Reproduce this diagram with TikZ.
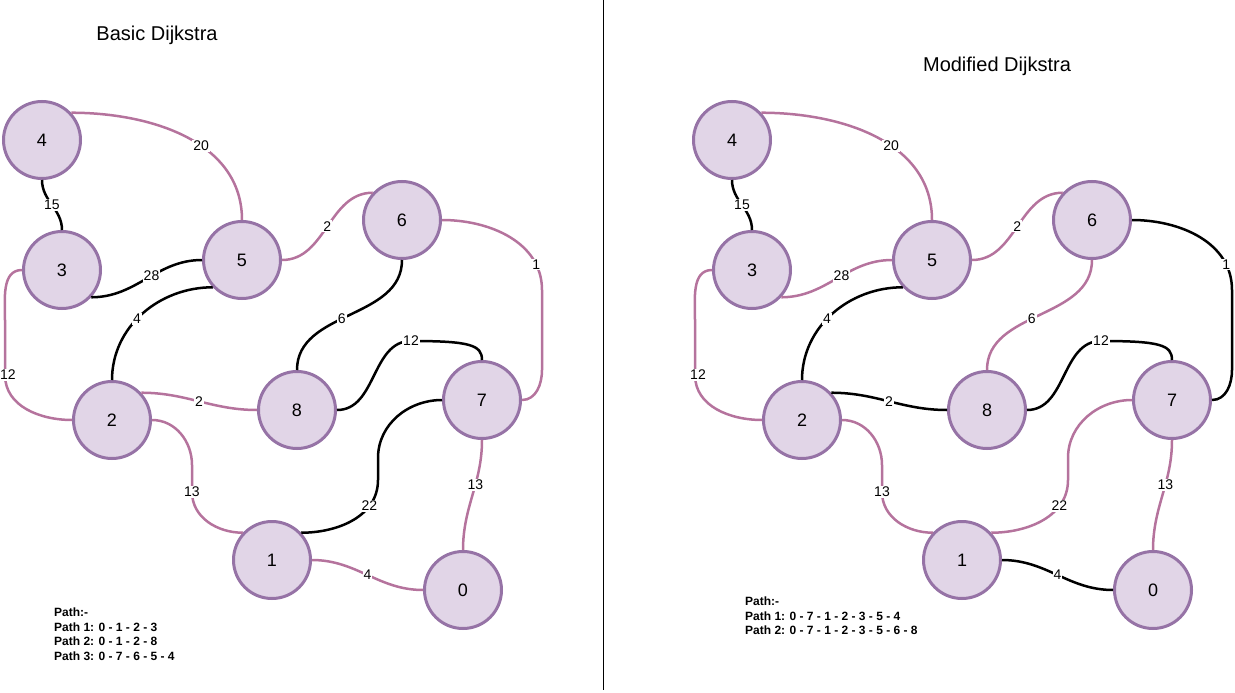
\documentclass[tikz,border=0pt]{standalone}
\usepackage{fontspec}
\setmainfont{Liberation Sans}
\usepackage{tikz}
\definecolor{vertexfill}{HTML}{E1D5E7}
\definecolor{vertexline}{HTML}{9673A6}
\definecolor{spareline}{HTML}{B5739D}
\tikzset{
  %Define style for vertices
  vertex/.style={
    circle,
    fill=vertexfill,
    draw=vertexline, line width=3pt,
    minimum size=77pt,
    inner sep=0pt,
    font=\fontsize{18}{20}\selectfont},
  % Define edge styles
  chosen/.style={draw=black, line width=2.5pt},
  spare/.style={draw=spareline, line width=2.5pt},
  % Define style for weights
  weight/.style={
    fill=white,
    inner sep=1pt,
    font=\fontsize{14}{16}\selectfont},
  heading/.style={font=\fontsize{20}{24}\selectfont},
  pathtext/.style={
    anchor=north west,
    align=left,
    inner sep=0pt,
    font=\bfseries\fontsize{12}{14.5}\selectfont}
}

\begin{document}
\begin{tikzpicture}[x=1pt,y=-1pt]
  \useasboundingbox (0,0) rectangle (1235,693);
  \node[heading] (basic) at (157,35) {Basic Dijkstra};
  \node[heading] (modified) at (997,66) {Modified Dijkstra};
  \coordinate (divtop) at (603,0);
  \coordinate (divbot) at (603,690);
  \draw[line width=1pt] (divtop) -- (divbot);

  % basic graph
  \begin{scope}
    \foreach \n/\x/\y in {0/463/590,1/272/560,2/112/420,3/62/270,4/42/140,
                          5/242/260,6/402/220,7/482/400,8/297/410}
      \node[vertex] (a\n) at (\x,\y) {\n};
    \path
    (a4.43) edge[spare, out=0, in=90] node[weight, pos=0.58] {20} (a5.north)
    (a4.south) edge[chosen, out=-90, in=90] node[weight] {15} (a3.north)
    (a3.-43) edge[chosen, out=0, in=180] node[weight, pos=0.55] {28} (a5.west)
    (a5.223) edge[chosen, out=180, in=90] node[weight, pos=0.55] {4} (a2.north)
    (a5.east) edge[spare, out=0, in=180] node[weight] {2} (a6.137)
    (a6.south) edge[chosen, out=-90, in=90] node[weight, pos=0.55] {6} (a8.north)
    (a2.43) edge[spare, out=0, in=180] node[weight] {2} (a8.west)
    (a1.east) edge[spare, out=0, in=180] node[weight] {4} (a0.west)
    (a7.south) edge[spare, out=-90, in=90] node[weight, pos=0.4] {13} (a0.north)
    ;
    \draw[spare] (a6.east) to[out=0, in=90] node[weight, pos=0.8] {1} (542,290)
      -- (542,370) to[out=-90, in=0] (a7.east);
    \draw[chosen] (a8.east) to[out=0, in=180] (411,341) node[weight] {12}
      .. controls (470,341) and (482,345) .. (a7.north);
    \draw[spare] (a3.west) to[out=180, in=90] (5,320)
      -- (5,375) node[weight, xshift=3pt] {12} to[out=-90, in=180] (a2.west);
    \draw[spare] (a2.east) to[out=0, in=90] (192,465)
      -- (192,492) node[weight] {13} to[out=-90, in=180] (a1.137);
    \draw[chosen] (a1.43) to[out=0, in=-90] node[weight, pos=0.72] {22} (378,480)
      -- (378,458) to[out=90, in=180] (a7.west);
    \node[pathtext] (basicpaths) at (54,608)
      {Path:-\\Path 1: 0 - 1 - 2 - 3\\Path 2: 0 - 1 - 2 - 8\\Path 3: 0 - 7 - 6 - 5 - 4};
  \end{scope}

  % modified graph
  \begin{scope}[xshift=690pt]
    \foreach \n/\x/\y in {0/463/590,1/272/560,2/112/420,3/62/270,4/42/140,
                          5/242/260,6/402/220,7/482/400,8/297/410}
      \node[vertex] (b\n) at (\x,\y) {\n};
    \path
    (b4.43) edge[spare, out=0, in=90] node[weight, pos=0.58] {20} (b5.north)
    (b4.south) edge[chosen, out=-90, in=90] node[weight] {15} (b3.north)
    (b3.-43) edge[spare, out=0, in=180] node[weight, pos=0.55] {28} (b5.west)
    (b5.223) edge[chosen, out=180, in=90] node[weight, pos=0.55] {4} (b2.north)
    (b5.east) edge[spare, out=0, in=180] node[weight] {2} (b6.137)
    (b6.south) edge[spare, out=-90, in=90] node[weight, pos=0.55] {6} (b8.north)
    (b2.43) edge[chosen, out=0, in=180] node[weight] {2} (b8.west)
    (b1.east) edge[chosen, out=0, in=180] node[weight] {4} (b0.west)
    (b7.south) edge[spare, out=-90, in=90] node[weight, pos=0.4] {13} (b0.north)
    ;
    \draw[chosen] (b6.east) to[out=0, in=90] node[weight, pos=0.8] {1} (542,290)
      -- (542,370) to[out=-90, in=0] (b7.east);
    \draw[chosen] (b8.east) to[out=0, in=180] (411,341) node[weight] {12}
      .. controls (470,341) and (482,345) .. (b7.north);
    \draw[spare] (b3.west) to[out=180, in=90] (5,320)
      -- (5,375) node[weight, xshift=3pt] {12} to[out=-90, in=180] (b2.west);
    \draw[spare] (b2.east) to[out=0, in=90] (192,465)
      -- (192,492) node[weight] {13} to[out=-90, in=180] (b1.137);
    \draw[spare] (b1.43) to[out=0, in=-90] node[weight, pos=0.72] {22} (378,480)
      -- (378,458) to[out=90, in=180] (b7.west);
    \node[pathtext] (modifiedpaths) at (55,597)
      {Path:-\\Path 1: 0 - 7 - 1 - 2 - 3 - 5 - 4\\Path 2: 0 - 7 - 1 - 2 - 3 - 5 - 6 - 8};
  \end{scope}
\end{tikzpicture}
\end{document}
